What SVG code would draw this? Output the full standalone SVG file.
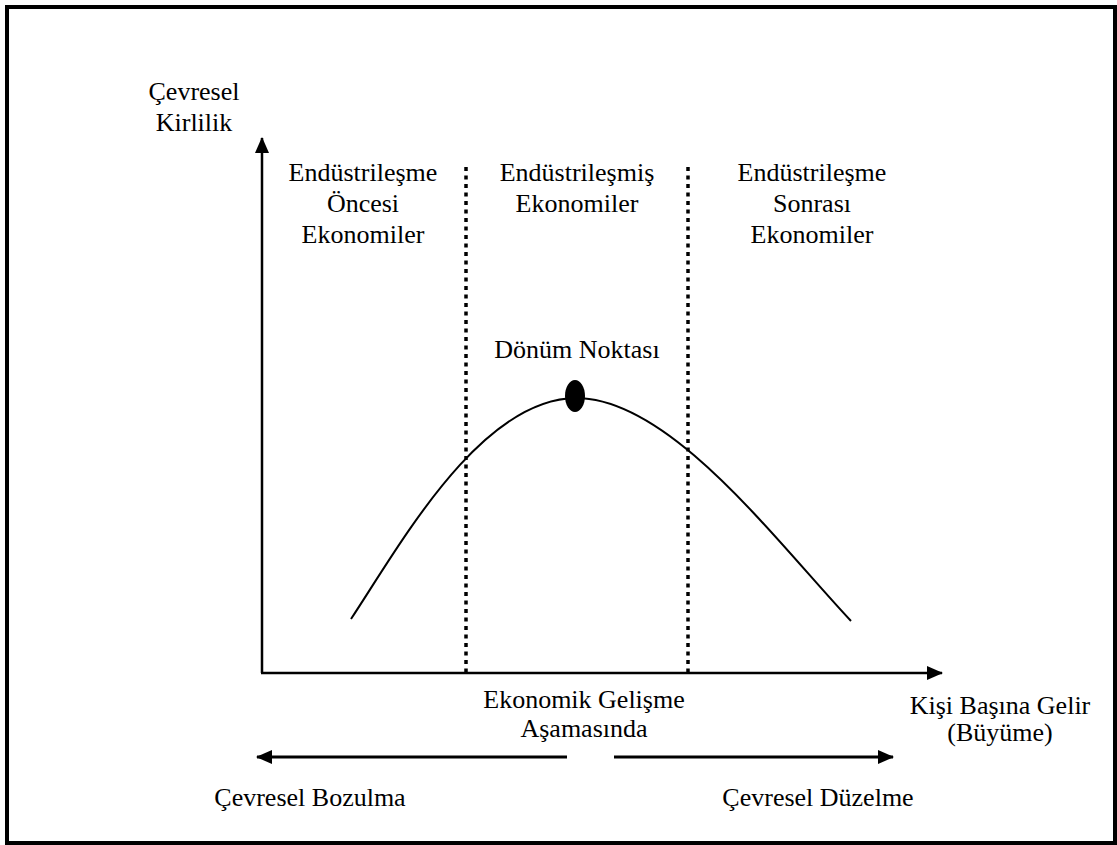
<svg xmlns="http://www.w3.org/2000/svg" width="1117" height="845" viewBox="0 0 1117 845">
  <defs>
    <marker id="head" viewBox="0 0 16 14" refX="15" refY="7" markerWidth="16" markerHeight="14" markerUnits="userSpaceOnUse" orient="auto">
      <path d="M0,0 L16,7 L0,14 Z" fill="#000"/>
    </marker>
    <style>
      .lbl { font-size: 26px; fill: #000; text-anchor: middle; }
      .axis { stroke: #000; stroke-width: 2.5; fill: none; marker-end: url(#head); }
      .arrow { stroke: #000; stroke-width: 3; fill: none; marker-end: url(#head); }
      .divider { stroke: #000; stroke-width: 3.5; stroke-dasharray: 4 4.5; fill: none; }
      .curve { stroke: #000; stroke-width: 2; fill: none; }
    </style>
  </defs>

  <rect width="1117" height="845" fill="#fff"/>
  <!-- outer frame -->
  <rect x="7" y="7" width="1108" height="836" fill="none" stroke="#000" stroke-width="4"/>

  <g id="connectors">
    <!-- axes -->
    <line class="axis" x1="262" y1="673" x2="262" y2="138"/>
    <line class="axis" x1="261" y1="673" x2="942" y2="673"/>
    <!-- stage dividers -->
    <line class="divider" x1="466" y1="167" x2="466" y2="672"/>
    <line class="divider" x1="688" y1="167" x2="688" y2="672"/>
    <!-- environmental Kuznets curve -->
    <path class="curve" d="M351,619 C400,545 480,399 576,398 C670,398 775,540 851,621"/>
    <!-- direction arrows -->
    <line class="arrow" x1="567" y1="757" x2="257" y2="757"/>
    <line class="arrow" x1="614" y1="757" x2="893" y2="757"/>
  </g>

  <g font-family="'Liberation Serif', 'DejaVu Serif', serif">
    <g id="y-label">
      <text class="lbl" x="194" y="100">Çevresel</text>
      <text class="lbl" x="194" y="131">Kirlilik</text>
    </g>
    <g id="stage-pre">
      <text class="lbl" x="363" y="181">Endüstrileşme</text>
      <text class="lbl" x="363" y="212">Öncesi</text>
      <text class="lbl" x="363" y="243">Ekonomiler</text>
    </g>
    <g id="stage-industrial">
      <text class="lbl" x="577" y="181">Endüstrileşmiş</text>
      <text class="lbl" x="577" y="212">Ekonomiler</text>
    </g>
    <g id="stage-post">
      <text class="lbl" x="812" y="181">Endüstrileşme</text>
      <text class="lbl" x="812" y="212">Sonrası</text>
      <text class="lbl" x="812" y="243">Ekonomiler</text>
    </g>
    <g id="turning-point">
      <text class="lbl" x="577" y="358">Dönüm Noktası</text>
      <ellipse cx="575" cy="396" rx="10" ry="16" fill="#000"/>
    </g>
    <g id="x-label">
      <text class="lbl" x="1000" y="714">Kişi Başına Gelir</text>
      <text class="lbl" x="1000" y="741">(Büyüme)</text>
    </g>
    <g id="development-stage">
      <text class="lbl" x="584" y="708">Ekonomik Gelişme</text>
      <text class="lbl" x="584" y="737">Aşamasında</text>
    </g>
    <g id="degradation">
      <text class="lbl" x="310" y="806">Çevresel Bozulma</text>
    </g>
    <g id="improvement">
      <text class="lbl" x="818" y="806">Çevresel Düzelme</text>
    </g>
  </g>
</svg>
